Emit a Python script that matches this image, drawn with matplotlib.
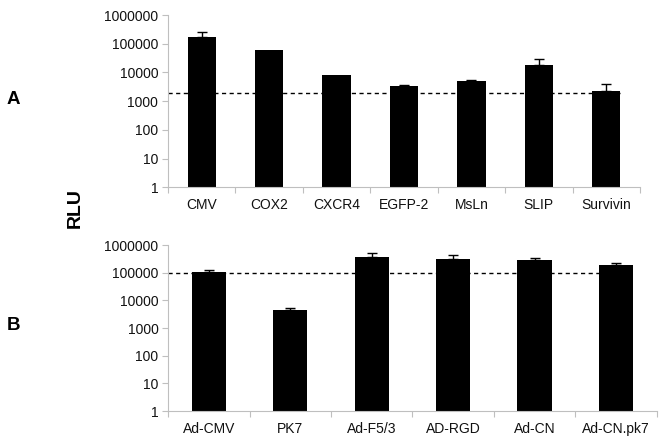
import matplotlib
matplotlib.use("Agg")
import matplotlib.pyplot as plt
import numpy as np

plt.rcParams['font.family'] = ['Liberation Sans', 'DejaVu Sans']

# Panel A data
cats_a = ["CMV", "COX2", "CXCR4", "EGFP-2", "MsLn", "SLIP", "Survivin"]
vals_a = [175000, 60000, 7900, 3450, 4850, 17500, 2230]
errtop_a = [260000, 60000, 7900, 3700, 5500, 30500, 4100]
ref_a = 1900

# Panel B data
cats_b = ["Ad-CMV", "PK7", "Ad-F5/3", "AD-RGD", "Ad-CN", "Ad-CN.pk7"]
vals_b = [109000, 4350, 380000, 320000, 295000, 185000]
errtop_b = [125000, 5250, 515000, 435000, 345000, 230000]
ref_b = 100000

yticks = [1, 10, 100, 1000, 10000, 100000, 1000000]
ytick_labels = ["1", "10", "100", "1000", "10000", "100000", "1000000"]

fig = plt.figure(figsize=(6.65, 4.42), dpi=100)
ax_a = fig.add_axes([0.2526, 0.5762, 0.7098, 0.3898])
ax_b = fig.add_axes([0.2531, 0.0701, 0.7343, 0.3756])

BW = 0.42
GRAY = "#bfbfbf"

def draw(ax, cats, vals, errtop, ref):
    x = np.arange(len(cats))
    vals = np.array(vals, dtype=float)
    up = np.array(errtop, dtype=float) - vals
    ax.set_yscale("log")
    ax.set_ylim(1, 1e6)
    ax.set_xlim(-0.5, len(cats) - 0.5)
    ax.plot([-0.5, x[-1] + BW / 2], [ref, ref], color="black", lw=1.0,
            dashes=(3, 2.5), zorder=1)
    ax.bar(x, vals, width=BW, color="black", zorder=2)
    mask = up > 0
    ax.errorbar(x[mask], vals[mask], yerr=[np.zeros(mask.sum()), up[mask]],
                fmt="none", ecolor="black", elinewidth=1.0, capsize=3.5,
                capthick=1.0, zorder=3)
    ax.set_yticks(yticks)
    ax.set_yticklabels(ytick_labels)
    ax.minorticks_off()
    ax.set_xticks(x)
    ax.set_xticklabels(cats)
    ax.set_xticks(np.arange(len(cats) + 1) - 0.5, minor=True)
    ax.tick_params(axis="x", which="major", length=0, pad=8, labelsize=10,
                   labelcolor="#111111")
    ax.tick_params(axis="x", which="minor", length=4, color=GRAY, width=0.8)
    ax.tick_params(axis="y", which="major", length=4, color=GRAY, width=0.8,
                   labelsize=10, labelcolor="#111111", pad=3)
    ax.tick_params(axis="y", which="minor", length=0)
    for s in ("top", "right"):
        ax.spines[s].set_visible(False)
    for s in ("left", "bottom"):
        ax.spines[s].set_color(GRAY)
        ax.spines[s].set_linewidth(0.8)

draw(ax_a, cats_a, vals_a, errtop_a, ref_a)
draw(ax_b, cats_b, vals_b, errtop_b, ref_b)

fig.text(13 / 665, 1 - 99.3 / 442, "A", fontsize=13.5, fontweight="bold",
         ha="center", va="center")
fig.text(13 / 665, 1 - 325 / 442, "B", fontsize=13.5, fontweight="bold",
         ha="center", va="center")
fig.text(75 / 665, 1 - 208 / 442, "RLU", fontsize=14, fontweight="bold",
         rotation=90, ha="center", va="center")

fig.savefig("out.png", dpi=100)
